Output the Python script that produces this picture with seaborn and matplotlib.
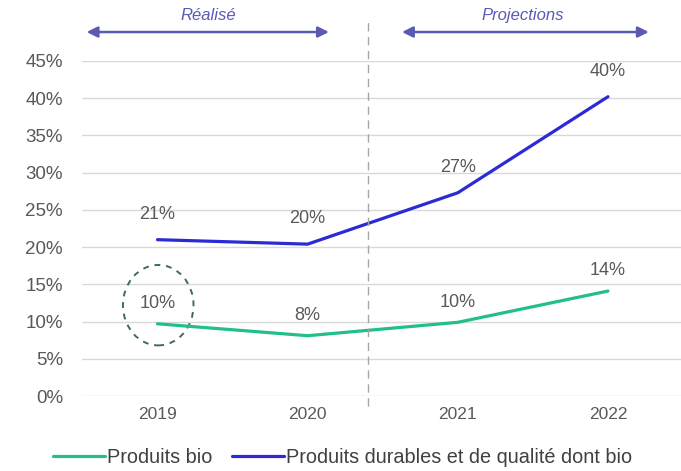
import numpy as np
import pandas as pd
import matplotlib
matplotlib.use("Agg")
import matplotlib.pyplot as plt
from matplotlib.patches import Ellipse
import seaborn as sns

# Données
annees = ["2019", "2020", "2021", "2022"]
bio = [9.7, 8.1, 9.9, 14.1]
durables = [21.0, 20.4, 27.3, 40.2]
labels_bio = ["10%", "8%", "10%", "14%"]
labels_durables = ["21%", "20%", "27%", "40%"]
series = ["Produits bio", "Produits durables et de qualité dont bio"]

VERT = "#22BE8E"
BLEU = "#2B2BD6"
VIOLET = "#5A5AB4"
GRIS = "#595959"

df = pd.DataFrame({
    "x": list(range(len(annees))) * 2,
    "valeur": bio + durables,
    "serie": [series[0]] * len(bio) + [series[1]] * len(durables),
})

sns.set_theme(style="whitegrid")
plt.rcParams["font.family"] = ["Liberation Sans", "DejaVu Sans"]

fig = plt.figure(figsize=(6.81, 4.71), dpi=100)
ax = fig.add_axes([0.121, 0.1592, 0.882, 0.7113])

sns.lineplot(data=df, x="x", y="valeur", hue="serie", palette=[VERT, BLEU],
             linewidth=2.3, ax=ax, legend=True)

ax.set_xlim(-0.5, 3.5)
ax.set_ylim(0, 45)
ax.set_yticks(np.arange(0, 46, 5))
ax.set_yticklabels([f"{v}%" for v in range(0, 46, 5)], fontsize=13.5, color=GRIS)
ax.set_xticks(range(len(annees)))
ax.set_xticklabels(annees, fontsize=12.5, color=GRIS)
ax.set_xlabel("")
ax.set_ylabel("")
ax.grid(axis="x", visible=False)
ax.grid(axis="y", color="#d9d9d9", linewidth=1)
for s in ax.spines.values():
    s.set_visible(False)
ax.tick_params(axis="y", length=0, pad=14)
ax.tick_params(axis="x", length=0, pad=8)

# Étiquettes des valeurs
for i in range(len(annees)):
    ax.text(i, bio[i] + 2.7, labels_bio[i], ha="center", va="center", fontsize=13, color=GRIS)
    ax.text(i, durables[i] + 3.4, labels_durables[i], ha="center", va="center", fontsize=13, color=GRIS)

# Cercle pointillé autour de 2019
ax.add_patch(Ellipse((0.005, 12.2), 0.47, 10.8, fill=False, linestyle=(0, (3, 3)),
                     edgecolor="#3e6b5a", linewidth=1.4, clip_on=False))

# Séparation réalisé / projections
ax.axvline(1.4, ymin=-0.03, ymax=1.12, color="#a6a6a6", linestyle=(0, (6, 4)),
           linewidth=1, clip_on=False)

# Flèches en haut
arrow = dict(arrowstyle="<|-|>", color=VIOLET, lw=1.8, mutation_scale=16)
ax.annotate("", xy=(-0.49, 0.932), xytext=(1.16, 0.932),
            xycoords=("data", "figure fraction"), textcoords=("data", "figure fraction"),
            arrowprops=arrow, annotation_clip=False)
ax.annotate("", xy=(1.61, 0.932), xytext=(3.29, 0.932),
            xycoords=("data", "figure fraction"), textcoords=("data", "figure fraction"),
            arrowprops=arrow, annotation_clip=False)
ax.annotate("Réalisé", xy=(0.34, 0.968), xycoords=("data", "figure fraction"),
            ha="center", va="center", fontsize=12, style="italic", color=VIOLET,
            annotation_clip=False)
ax.annotate("Projections", xy=(2.43, 0.968), xycoords=("data", "figure fraction"),
            ha="center", va="center", fontsize=12, style="italic", color=VIOLET,
            annotation_clip=False)

# Légende
handles, labels = ax.get_legend_handles_labels()
ax.legend_.remove()
fig.legend(handles, labels, loc="center", bbox_to_anchor=(0.503, 0.028), ncol=2,
           frameon=False, fontsize=14.3, handlelength=2.6, handletextpad=0.1,
           columnspacing=1.0, labelcolor="#404040")

fig.savefig("out.png", dpi=100)
plt.close(fig)
